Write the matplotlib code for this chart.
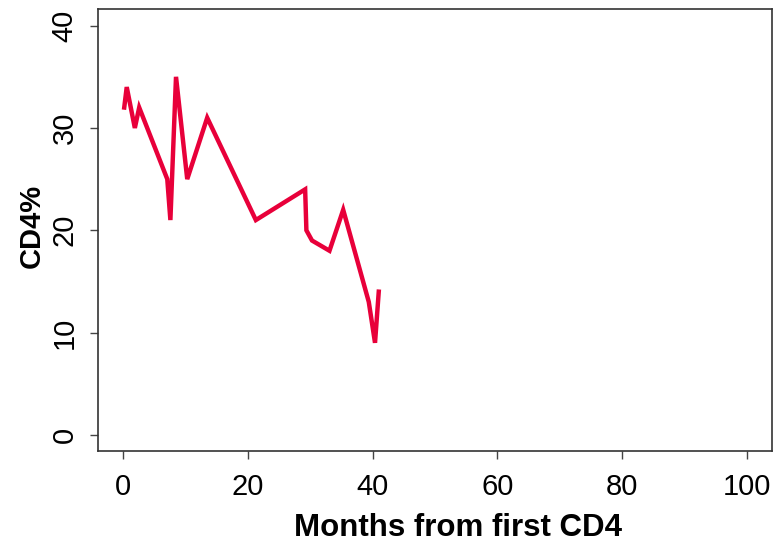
import matplotlib
matplotlib.use("Agg")
import matplotlib.pyplot as plt

# CD4 percentage over follow-up
months = [0.2, 0.6, 1.9, 2.6, 7.1, 7.6, 8.5, 10.3, 13.5, 21.3,
          29.2, 29.4, 30.3, 33.1, 35.3, 39.4, 40.4, 41.0]
cd4_pct = [32, 34, 30, 32, 25, 21, 35, 25, 31, 21,
           24, 20, 19, 18, 22, 13, 9, 14]

x_ticks = [0, 20, 40, 60, 80, 100]
y_ticks = [0, 10, 20, 30, 40]

plt.rcParams['font.family'] = ['Liberation Sans', 'DejaVu Sans']

fig = plt.figure(figsize=(7.78, 5.47), dpi=100)
ax = fig.add_axes([0.126, 0.175, 0.866, 0.808])

ax.plot(months, cd4_pct, color='#E8003A', lw=3.2, solid_joinstyle='miter')

ax.set_xlim(-4, 104)
ax.set_ylim(-1.6, 41.6)
ax.set_xticks(x_ticks)
ax.set_yticks(y_ticks)
ax.tick_params(axis='both', direction='out', length=6, width=1, color='#444444',
               labelsize=21)
ax.tick_params(axis='x', pad=10)
ax.tick_params(axis='y', pad=8)
for lab in ax.get_yticklabels():
    lab.set_rotation(90)
    lab.set_va('center')

for sp in ax.spines.values():
    sp.set_color('#333333')
    sp.set_linewidth(1.2)

# axis titles placed in figure coordinates
fig.text(0.589, 0.020, 'Months from first CD4', fontsize=22.5, fontweight='bold',
         ha='center', va='baseline')
fig.text(0.0515, 0.587, 'CD4%', fontsize=21, fontweight='bold', rotation=90,
         rotation_mode='anchor', ha='center', va='baseline')

fig.savefig('out.png', dpi=100)
